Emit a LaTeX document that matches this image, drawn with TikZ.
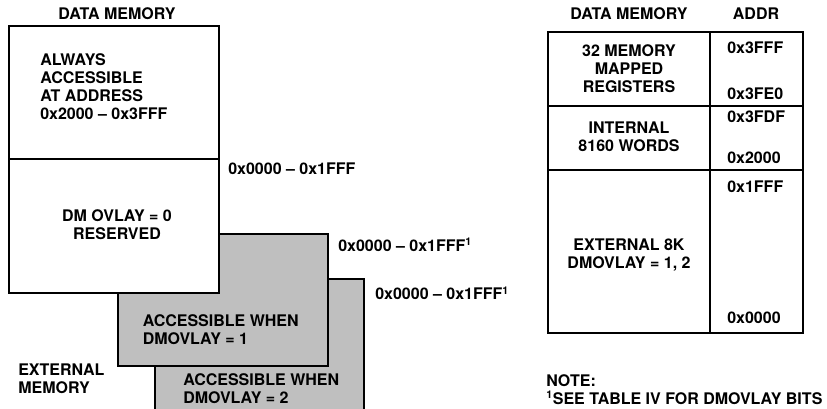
\documentclass[tikz,border=0pt]{standalone}
\usepackage{fontspec}
\setmainfont{TeX Gyre Heros}
\definecolor{memgray}{HTML}{BFBFBF}
\begin{document}
\begin{tikzpicture}[x=0.75pt,y=-0.75pt,
    lbl/.style={inner sep=0pt,font=\bfseries\fontsize{12}{13.5}\selectfont},
    blk/.style={lbl,align=left,anchor=north west},
    cblk/.style={lbl,align=center,anchor=north},
    box/.style={line width=1.5pt}]
                \useasboundingbox (0,0) rectangle (827,409);
                % overlay pages, back to front
                \filldraw[box,fill=memgray] (155,279) rectangle (364,420);
                \filldraw[box,fill=memgray] (118,234) rectangle (328,366);
                \filldraw[box,fill=white] (9,26) rectangle (219,293);
                \draw[box] (9,159) -- (219,159);
                \node[lbl,anchor=base] (dmhead) at (117,20) {DATA MEMORY};
                \node[blk] (always) at (40,53.5) {ALWAYS\\ACCESSIBLE\\AT ADDRESS\\0x2000 -- 0x3FFF};
                \node[cblk] (reserved) at (117,209) {DM OVLAY = 0\\RESERVED};
                \node[blk] (acc1) at (142.5,314) {ACCESSIBLE WHEN\\DMOVLAY = 1};
                \node[blk] (acc2) at (183,373.5) {ACCESSIBLE WHEN\\DMOVLAY = 2};
                \node[blk] (extmem) at (18,364) {EXTERNAL\\MEMORY};
                \node[lbl,anchor=base west] (range0) at (228,175) {0x0000 -- 0x1FFF};
                \node[lbl,anchor=base west] (range1) at (338,251.5) {0x0000 -- 0x1FFF\textsuperscript{1}};
                \node[lbl,anchor=base west] (range2) at (375,300) {0x0000 -- 0x1FFF\textsuperscript{1}};
                % memory map table
                \draw[line width=1.7pt] (548,32) rectangle (803,333);
                \draw[line width=1.3pt] (710,32) -- (710,333);
                \foreach \y in {106,170}{
                    \draw[line width=1.3pt] (548,\y) -- (803,\y);
                }
                \node[lbl,anchor=base] (maphead) at (629,20) {DATA MEMORY};
                \node[lbl,anchor=base] (addrhead) at (756,20) {ADDR};
                \node[cblk] (mmr) at (629,44.5) {32 MEMORY\\MAPPED\\REGISTERS};
                \node[cblk] (internal) at (629,122) {INTERNAL\\8160 WORDS};
                \node[cblk] (external) at (629,238.5) {EXTERNAL 8K\\DMOVLAY = 1, 2};
                \foreach \a/\y in {3FFF/54,3FE0/100,3FDF/123,2000/163.5,1FFF/193,0000/323}{
                    \node[lbl,anchor=base west] (addr\a) at (727,\y) {0x\a};
                }
                \node[blk] (note) at (546,374) {NOTE:\\\textsuperscript{1}SEE TABLE IV FOR DMOVLAY BITS};
            \end{tikzpicture}
\end{document}
